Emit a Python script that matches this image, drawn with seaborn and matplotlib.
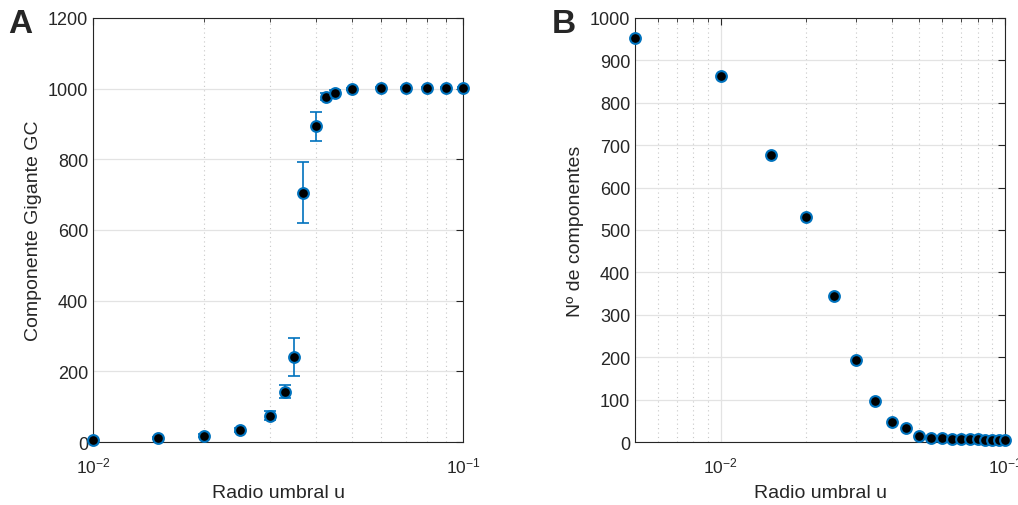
import matplotlib
matplotlib.use('Agg')
import matplotlib.pyplot as plt
import seaborn as sns
import pandas as pd
from matplotlib.ticker import LogLocator, NullFormatter, MultipleLocator

# Panel A: componente gigante vs radio umbral
u_gc = [0.01, 0.015, 0.02, 0.025, 0.03, 0.033, 0.035, 0.037, 0.04, 0.0425,
        0.045, 0.05, 0.06, 0.07, 0.08, 0.09, 0.1]
gc_media = [5, 12, 18, 34, 74, 142, 240, 706, 893, 977, 987, 999, 1003,
            1003, 1003, 1003, 1003]
gc_err = [2, 3, 4, 5, 13, 18, 53, 86, 40, 10, 8, 4, 2, 2, 2, 2, 2]

# Panel B: numero de componentes vs radio umbral
u_nc = [0.005, 0.01, 0.015, 0.02, 0.025, 0.03, 0.035, 0.04, 0.045, 0.05,
        0.055, 0.06, 0.065, 0.07, 0.075, 0.08, 0.085, 0.09, 0.095, 0.1]
n_comp = [953, 864, 676, 531, 344, 194, 96, 47, 32, 15, 9, 9, 8, 6, 6, 6,
          5, 5, 5, 5]

azul = '#0072BD'
gris = '#262626'

sns.set_style('white')
plt.rcParams['font.family'] = ['Liberation Sans', 'DejaVu Sans']
plt.rcParams['mathtext.fontset'] = 'custom'
plt.rcParams['mathtext.rm'] = 'Liberation Sans'
plt.rcParams['mathtext.it'] = 'Liberation Sans:italic'
plt.rcParams['font.size'] = 13

df_a = pd.DataFrame({'u': u_gc, 'gc': gc_media, 'err': gc_err})
df_b = pd.DataFrame({'u': u_nc, 'n': n_comp})

fig = plt.figure(figsize=(10.18, 5.06), dpi=100)
ax1 = fig.add_axes([0.0914, 0.1245, 0.3635, 0.838])
ax2 = fig.add_axes([0.6238, 0.1245, 0.3635, 0.838])


def estilo(ax, ymax, ystep, xmin):
    ax.set_xscale('log')
    ax.set_xlim(xmin, 0.1)
    ax.set_ylim(0, ymax)
    ax.yaxis.set_major_locator(MultipleLocator(ystep))
    ax.xaxis.set_major_locator(LogLocator(base=10, numticks=10))
    ax.xaxis.set_minor_locator(LogLocator(base=10, subs=range(2, 10), numticks=20))
    ax.xaxis.set_minor_formatter(NullFormatter())
    ax.grid(True, which='major', axis='y', color='#e3e3e3', lw=0.9, ls='-')
    ax.grid(True, which='major', axis='x', color='#e3e3e3', lw=0.9, ls='-')
    ax.grid(True, which='minor', axis='x', color='#c8c8c8', lw=0.8, ls=(0, (1, 3)))
    ax.set_axisbelow(True)
    ax.tick_params(which='both', direction='in', top=True, right=True,
                   colors=gris, labelsize=13)
    ax.tick_params(which='major', length=5, width=0.8)
    ax.tick_params(which='minor', length=3, width=0.6)
    ax.tick_params(axis='x', which='major', pad=10, labelsize=12.5)
    for s in ax.spines.values():
        s.set_color(gris)
        s.set_linewidth(0.8)
    ax.set_xlabel('Radio umbral u', fontsize=14, color=gris, labelpad=6)


# A
ax1.errorbar(df_a['u'], df_a['gc'], yerr=df_a['err'], fmt='none',
             ecolor=azul, elinewidth=1.2, capsize=4.5, capthick=1.2, zorder=3)
sns.scatterplot(data=df_a, x='u', y='gc', ax=ax1, color='black', s=60,
                edgecolor=azul, linewidth=1.5, zorder=4, clip_on=False)
estilo(ax1, 1200, 200, 0.01)
ax1.set_ylabel('Componente Gigante GC', fontsize=14, color=gris)

# B
sns.scatterplot(data=df_b, x='u', y='n', ax=ax2, color='black', s=60,
                edgecolor=azul, linewidth=1.5, zorder=4, clip_on=False)
estilo(ax2, 1000, 100, 0.005)
ax2.set_ylabel('Nº de componentes', fontsize=14, color=gris)

fig.text(0.008, 0.935, 'A', fontsize=24, fontweight='bold')
fig.text(0.542, 0.935, 'B', fontsize=24, fontweight='bold')

fig.savefig('out.png', dpi=100)
